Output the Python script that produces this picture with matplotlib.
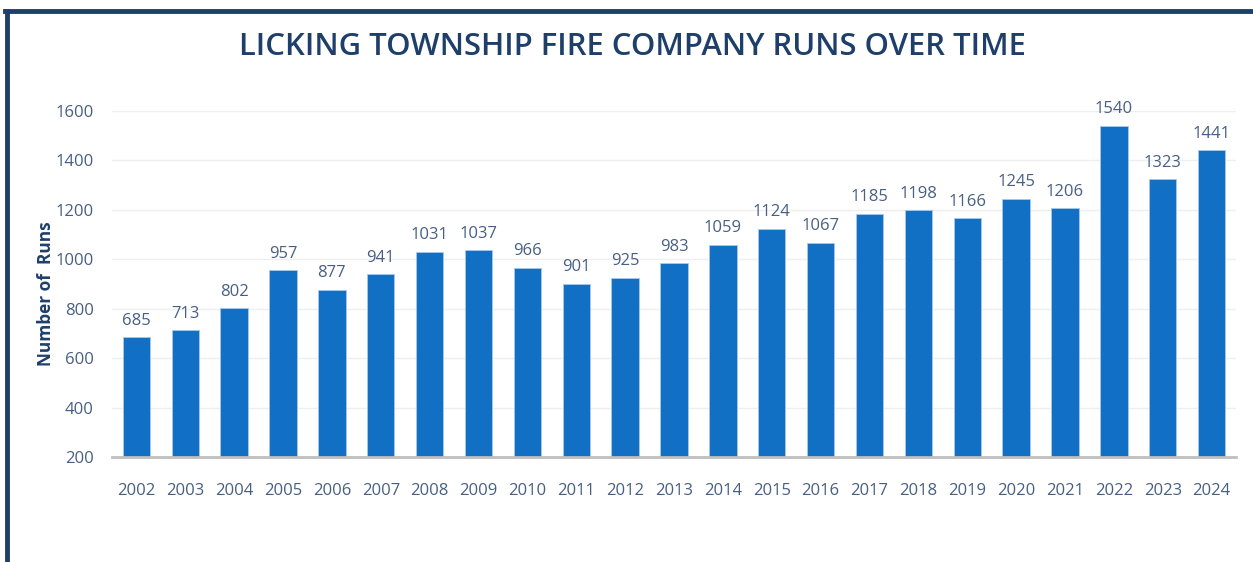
import matplotlib
matplotlib.use("Agg")
import matplotlib.pyplot as plt
from matplotlib.lines import Line2D

years = ["2002", "2003", "2004", "2005", "2006", "2007", "2008", "2009", "2010", "2011", "2012",
         "2013", "2014", "2015", "2016", "2017", "2018", "2019", "2020", "2021", "2022", "2023", "2024"]
runs = [685, 713, 802, 957, 877, 941, 1031, 1037, 966, 901, 925,
        983, 1059, 1124, 1067, 1185, 1198, 1166, 1245, 1206, 1540, 1323, 1441]
yticks = [200, 400, 600, 800, 1000, 1200, 1400, 1600]

plt.rcParams['font.family'] = ['Open Sans', 'DejaVu Sans']

W, H = 1253, 562
fig = plt.figure(figsize=(W / 100, H / 100), dpi=100)
fig.patch.set_facecolor('white')

navy = '#1F3F6B'
tickc = '#475F82'
barc = '#1170C4'

# frame lines
fig.add_artist(Line2D([5 / W, 1.0], [1 - 11 / H, 1 - 11 / H], color=navy, lw=3.5, transform=fig.transFigure))
fig.add_artist(Line2D([6.5 / W, 6.5 / W], [0, 1 - 11 / H], color=navy, lw=3.5, transform=fig.transFigure))

ax = fig.add_axes([112 / W, 1 - 457 / H, (1236 - 112) / W, (457 - 111) / H])
x = list(range(len(years)))
ax.bar(x, runs, width=0.56, bottom=0, color=barc, edgecolor='#A9C8EA', linewidth=0.6, zorder=3)
ax.set_xlim(-0.5, len(years) - 0.5)
ax.set_ylim(200, 1600)
ax.set_yticks(yticks)
ax.set_yticklabels([str(v) for v in yticks])
ax.set_xticks(x)
ax.set_xticklabels(years)
ax.tick_params(axis='both', length=0, labelsize=12, labelcolor=tickc)
ax.tick_params(axis='x', pad=19)
ax.tick_params(axis='y', pad=13)
ax.grid(axis='y', color='#EFEFEF', linewidth=1, zorder=0)
for s in ['top', 'right', 'left']:
    ax.spines[s].set_visible(False)
ax.spines['bottom'].set_color('#BFBFBF')
ax.spines['bottom'].set_linewidth(2)
ax.spines['bottom'].set_zorder(4)

for xi, v in zip(x, runs):
    ax.annotate(str(v), (xi, v), xytext=(0, 6), textcoords='offset points',
                ha='center', va='bottom', fontsize=12, color=tickc)

ax.set_ylabel('Number of  Runs', fontsize=12.4, fontweight='bold', color=navy)
ax.yaxis.set_label_coords(-57 / (1236 - 112), 0.471)

fig.text(632 / W, 1 - 47 / H, 'LICKING TOWNSHIP FIRE COMPANY RUNS OVER TIME', ha='center', va='center',
         fontsize=22.3, fontweight='semibold', color=navy)

fig.savefig('out.png', dpi=100, facecolor='white')
